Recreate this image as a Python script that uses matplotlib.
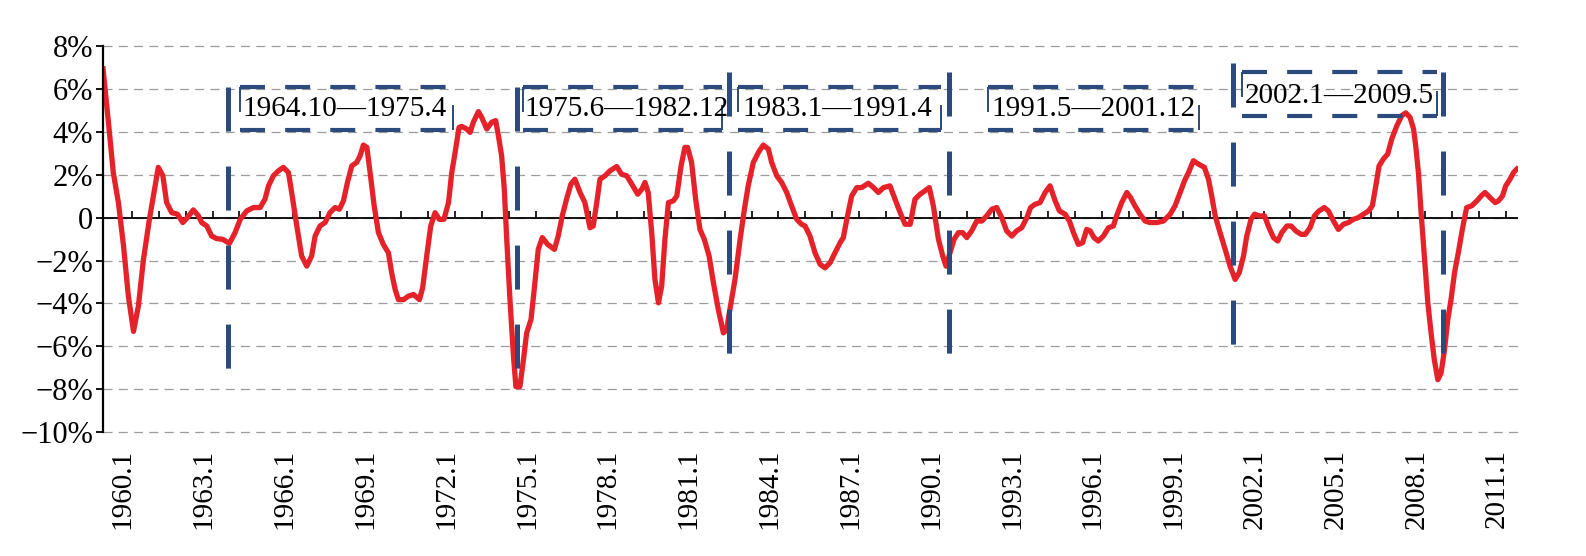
import matplotlib
matplotlib.use("Agg")
import matplotlib.pyplot as plt

plt.rcParams['font.family'] = ['Liberation Serif', 'DejaVu Serif']
plt.rcParams['lines.scale_dashes'] = False

# ==== data (fractional year, % change) ====
t = [1959.27, 1959.47, 1959.65, 1959.84, 1960.03, 1960.21, 1960.40, 1960.58, 1960.77, 1960.99,
     1961.14, 1961.32, 1961.49, 1961.63, 1961.82, 1962.03, 1962.23, 1962.40, 1962.62, 1962.81,
     1962.93, 1963.12, 1963.30, 1963.49, 1963.71, 1963.96, 1964.17, 1964.36, 1964.60, 1964.85,
     1965.10, 1965.28, 1965.41, 1965.59, 1965.78, 1965.96, 1966.15, 1966.27, 1966.46, 1966.64,
     1966.83, 1967.01, 1967.14, 1967.32, 1967.51, 1967.69, 1967.88, 1968.04, 1968.19, 1968.34,
     1968.50, 1968.68, 1968.81, 1968.93, 1969.06, 1969.18, 1969.33, 1969.49, 1969.67, 1969.86,
     1969.98, 1970.11, 1970.23, 1970.42, 1970.60, 1970.79, 1971.01, 1971.13, 1971.28, 1971.43,
     1971.59, 1971.75, 1971.92, 1972.09, 1972.21, 1972.33, 1972.48, 1972.58, 1972.76, 1972.89,
     1973.01, 1973.20, 1973.32, 1973.51, 1973.69, 1973.84, 1973.94, 1974.06, 1974.16, 1974.25,
     1974.37, 1974.50, 1974.59, 1974.74, 1974.87, 1974.99, 1975.15, 1975.27, 1975.42, 1975.57,
     1975.77, 1976.02, 1976.16, 1976.31, 1976.47, 1976.63, 1976.78, 1976.97, 1977.15, 1977.34,
     1977.46, 1977.59, 1977.71, 1977.90, 1978.08, 1978.33, 1978.51, 1978.70, 1978.89, 1979.11,
     1979.26, 1979.38, 1979.50, 1979.63, 1979.75, 1979.88, 1980.00, 1980.12, 1980.25, 1980.43,
     1980.56, 1980.72, 1980.86, 1980.96, 1981.11, 1981.26, 1981.42, 1981.58, 1981.76, 1981.92,
     1982.10, 1982.29, 1982.41, 1982.53, 1982.72, 1982.91, 1983.07, 1983.21, 1983.40, 1983.59,
     1983.77, 1983.96, 1984.08, 1984.27, 1984.45, 1984.64, 1984.82, 1985.01, 1985.19, 1985.32,
     1985.50, 1985.69, 1985.88, 1986.06, 1986.25, 1986.43, 1986.62, 1986.74, 1986.87, 1987.05,
     1987.24, 1987.42, 1987.67, 1987.86, 1988.04, 1988.23, 1988.47, 1988.66, 1988.85, 1989.03,
     1989.22, 1989.40, 1989.59, 1989.77, 1989.93, 1990.08, 1990.27, 1990.43, 1990.55, 1990.70,
     1990.85, 1991.01, 1991.17, 1991.32, 1991.50, 1991.69, 1991.88, 1992.06, 1992.25, 1992.43,
     1992.62, 1992.80, 1992.99, 1993.17, 1993.36, 1993.55, 1993.69, 1993.85, 1994.04, 1994.23,
     1994.41, 1994.60, 1994.76, 1994.97, 1995.13, 1995.28, 1995.46, 1995.62, 1995.77, 1995.90,
     1996.04, 1996.20, 1996.39, 1996.58, 1996.76, 1996.88, 1997.07, 1997.26, 1997.40, 1997.56,
     1997.75, 1997.94, 1998.12, 1998.37, 1998.62, 1998.87, 1999.05, 1999.24, 1999.40, 1999.55,
     1999.73, 1999.92, 2000.14, 2000.29, 2000.41, 2000.54, 2000.72, 2000.91, 2001.09, 2001.28,
     2001.43, 2001.59, 2001.71, 2001.87, 2002.00, 2002.18, 2002.37, 2002.51, 2002.70, 2002.86,
     2003.01, 2003.20, 2003.36, 2003.53, 2003.73, 2003.88, 2004.06, 2004.22, 2004.39, 2004.59,
     2004.74, 2004.93, 2005.11, 2005.30, 2005.48, 2005.67, 2005.85, 2006.04, 2006.23, 2006.37,
     2006.50, 2006.62, 2006.78, 2006.94, 2007.09, 2007.28, 2007.46, 2007.61, 2007.77, 2007.90,
     2007.98, 2008.08, 2008.18, 2008.30, 2008.43, 2008.55, 2008.67, 2008.80, 2008.92, 2009.05,
     2009.17, 2009.29, 2009.42, 2009.56, 2009.71, 2009.87, 2010.06, 2010.25, 2010.41, 2010.55,
     2010.74, 2010.93, 2011.05, 2011.20, 2011.32, 2011.48, 2011.61, 2011.73]

growth = [6.93, 4.44, 2.10, 0.70, -1.32, -3.66, -5.30, -4.13, -1.95, -0.08,
          1.01, 2.34, 1.95, 0.70, 0.23, 0.16, -0.23, 0.00, 0.36, 0.08,
          -0.23, -0.39, -0.86, -0.98, -1.01, -1.20, -0.70, -0.08, 0.31, 0.47,
          0.47, 0.86, 1.48, 1.95, 2.18, 2.34, 2.10, 1.17, -0.39, -1.79,
          -2.26, -1.79, -0.86, -0.39, -0.23, 0.23, 0.47, 0.39, 0.78, 1.64,
          2.41, 2.57, 2.88, 3.38, 3.27, 2.10, 0.55, -0.70, -1.25, -1.64,
          -2.57, -3.35, -3.82, -3.82, -3.66, -3.58, -3.82, -3.27, -1.79, -0.39,
          0.23, -0.08, -0.08, 0.70, 2.10, 3.00, 4.20, 4.25, 4.13, 3.97,
          4.44, 4.94, 4.67, 4.13, 4.44, 4.52, 3.82, 2.88, 1.32, -1.01,
          -3.82, -6.46, -7.87, -7.87, -6.62, -5.37, -4.75, -3.35, -1.48, -0.93,
          -1.25, -1.48, -0.86, 0.08, 0.86, 1.56, 1.79, 1.17, 0.70, -0.47,
          -0.39, 0.70, 1.79, 1.95, 2.18, 2.38, 2.02, 1.95, 1.56, 1.09,
          1.32, 1.64, 1.17, -0.70, -2.88, -3.97, -3.19, -1.01, 0.70, 0.78,
          1.01, 2.41, 3.27, 3.27, 2.57, 0.86, -0.55, -1.01, -1.79, -3.04,
          -4.28, -5.37, -5.22, -4.28, -2.88, -1.01, 0.39, 1.48, 2.57, 3.04,
          3.38, 3.19, 2.57, 1.95, 1.64, 1.17, 0.55, -0.08, -0.31, -0.39,
          -0.85, -1.64, -2.18, -2.34, -2.10, -1.64, -1.17, -0.93, -0.08, 1.01,
          1.40, 1.40, 1.60, 1.40, 1.17, 1.40, 1.48, 0.86, 0.23, -0.31,
          -0.31, 0.86, 1.09, 1.25, 1.40, 0.55, -1.01, -1.79, -2.26, -1.64,
          -1.01, -0.70, -0.70, -0.93, -0.62, -0.16, -0.16, 0.08, 0.39, 0.47,
          0.00, -0.62, -0.86, -0.62, -0.47, 0.00, 0.47, 0.62, 0.70, 1.17,
          1.48, 0.78, 0.31, 0.16, -0.16, -0.70, -1.25, -1.17, -0.55, -0.62,
          -0.93, -1.09, -0.86, -0.47, -0.39, 0.08, 0.70, 1.17, 0.93, 0.55,
          0.16, -0.16, -0.23, -0.23, -0.16, 0.16, 0.55, 1.17, 1.71, 2.10,
          2.65, 2.49, 2.34, 1.79, 1.01, 0.08, -0.70, -1.48, -2.26, -2.88,
          -2.57, -1.79, -0.86, -0.08, 0.16, 0.08, 0.08, -0.39, -0.93, -1.09,
          -0.70, -0.39, -0.39, -0.62, -0.78, -0.78, -0.47, 0.08, 0.31, 0.47,
          0.31, -0.16, -0.55, -0.31, -0.23, -0.08, 0.00, 0.16, 0.31, 0.55,
          1.48, 2.41, 2.73, 2.96, 3.66, 4.28, 4.75, 4.88, 4.67, 4.13,
          3.35, 2.10, 0.23, -1.79, -3.97, -5.37, -6.62, -7.55, -7.24, -6.15,
          -4.75, -3.82, -2.57, -1.64, -0.55, 0.47, 0.55, 0.78, 1.01, 1.17,
          0.93, 0.70, 0.78, 1.01, 1.48, 1.79, 2.10, 2.26]

label_years = list(range(1960, 2012, 3))
y_ticks = [8, 6, 4, 2, 0, -2, -4, -6, -8, -10]

# cycle separators (position, top, bottom) as drawn
cut_x = [1963.92, 1974.64, 1982.51, 1990.67, 2001.21, 2009.00]
cut_top = [6.1, 6.1, 6.8, 6.8, 7.2, 6.8]
cut_bottom = [-7.2, -7.2, -6.5, -6.5, -6.1, -6.5]

# cycle boxes
box_text = ["1964.10—1975.4", "1975.6—1982.12", "1983.1—1991.4", "1991.5—2001.12", "2002.1—2009.5"]
box_x0 = [1964.35, 1974.87, 1982.84, 1992.12, 2001.52]
box_x1 = [1972.27, 1982.23, 1990.37, 1999.95, 2008.76]
box_y0 = [4.1, 4.1, 4.1, 4.1, 4.72]
box_y1 = [6.1, 6.1, 6.1, 6.1, 6.78]
text_x = [1968.25, 1978.70, 1986.53, 1996.03, 2005.14]
text_y = [5.06, 5.06, 5.06, 5.06, 5.65]

RED = '#E5222A'
NAVY = '#2C4A7C'

fig = plt.figure(figsize=(15.86, 5.56), dpi=100)
ax = fig.add_axes([0.0648, 0.2225, 0.8924, 0.695])

ax.set_xlim(1959.26, 2011.78)
ax.set_ylim(-10, 8)

# grid + zero line
ax.set_yticks(y_ticks)
ax.set_yticklabels([('0' if v == 0 else f"{v}%".replace('-', '−')) for v in y_ticks])
ax.yaxis.grid(True, color='#9c9c9c', linewidth=0.9, linestyle=(0, (6.5, 4.5)), zorder=0)
ax.set_axisbelow(True)
for gl in ax.get_ygridlines():
    gl.set_clip_on(False)
ax.axhline(0, color='black', linewidth=1.3, zorder=1.5)
ax.vlines([y + 1 / 3 for y in range(1960, 2012)], 0, 0.32, color='black', linewidth=1.2, zorder=1.5)

# main series
ax.plot(t, growth, color=RED, linewidth=3.8, solid_joinstyle='round', zorder=2)

# cycle separators
for x, top, bot in zip(cut_x, cut_top, cut_bottom):
    ax.plot([x, x], [top, bot], color=NAVY, linewidth=3.6, dashes=(31.7, 25.2), zorder=3)

# dashed boxes + labels
for s, x0, x1, y0, y1, tx, ty in zip(box_text, box_x0, box_x1, box_y0, box_y1, text_x, text_y):
    ax.plot([x0, x1], [y1, y1], color=NAVY, linewidth=3.0, dashes=(18, 14.5), zorder=3)
    ax.plot([x0, x1], [y0, y0], color=NAVY, linewidth=3.0, dashes=(18, 14.5), zorder=3)
    ax.plot([x0, x0], [y1, y0], color=NAVY, linewidth=1.4, dashes=(18, 14.5), zorder=3)
    ax.plot([x1, x1], [y0, y1], color=NAVY, linewidth=1.4, dashes=(18, 14.5), zorder=3)
    ax.text(tx, ty, s, fontsize=21, ha='center', va='center', color='black', zorder=4)

# axes styling
for side in ['top', 'right', 'bottom']:
    ax.spines[side].set_visible(False)
ax.spines['left'].set_linewidth(1.6)
ax.tick_params(axis='y', direction='out', length=5, width=1.3, pad=2, labelsize=22)
ax.set_xticks(label_years)
ax.set_xticklabels([f"{y}.1" for y in label_years], rotation=90, fontsize=21)
ax.tick_params(axis='x', length=0, pad=12)

fig.savefig('out.png', dpi=100)
